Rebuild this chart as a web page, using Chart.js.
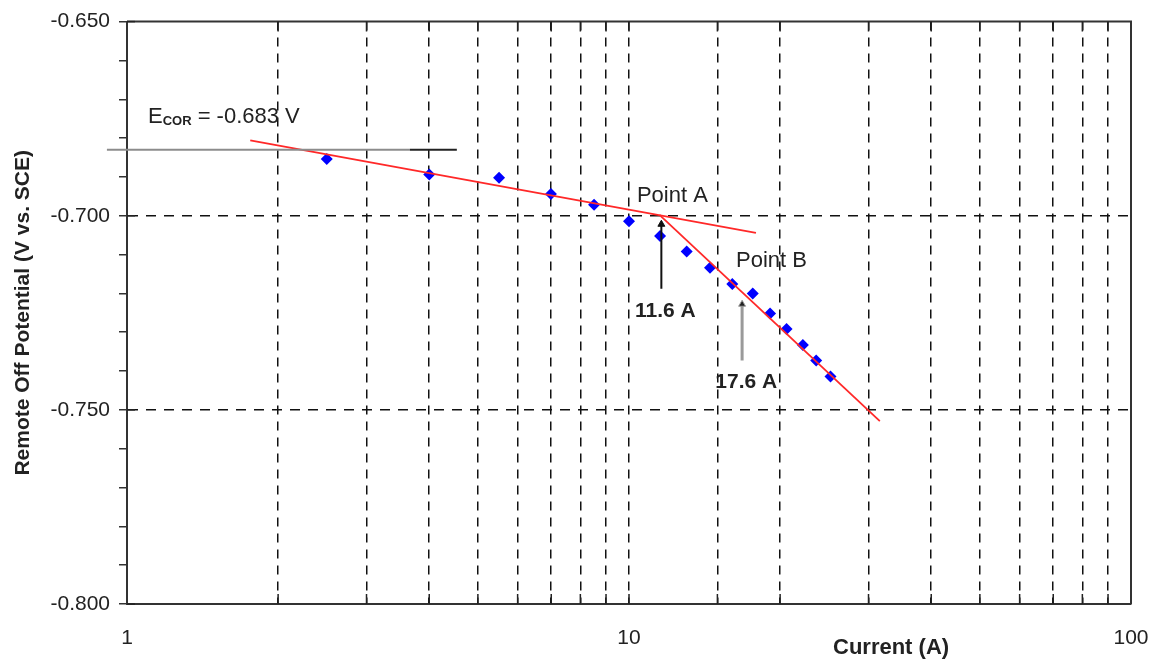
<!DOCTYPE html>
<html>
<head>
<meta charset="utf-8">
<script src="https://cdn.jsdelivr.net/npm/chart.js@4/dist/chart.umd.min.js"></script>
<style>
  html, body { margin: 0; padding: 0; background: #fff; }
  #wrap { width: 1157px; height: 662px; }
</style>
</head>
<body>
<div id="wrap"><canvas id="chart" width="1157" height="662"></canvas></div>
<script>
// measured points (blue diamonds)
const currentA = [2.50, 4.00, 5.51, 6.99, 8.52, 10.0, 11.53, 13.03, 14.5, 16.06, 17.64, 19.1, 20.6, 22.2, 23.6, 25.2];
const potentialV = [-0.6854, -0.6894, -0.6902, -0.6944, -0.6972, -0.7014, -0.7052, -0.7092, -0.7134, -0.7176, -0.7200, -0.7252, -0.7292, -0.7333, -0.7373, -0.7414];

// red fit lines
const fit1X = [1.76, 17.9];
const fit1Y = [-0.6806, -0.7044];
const fit2X = [11.5, 31.6];
const fit2Y = [-0.6998, -0.7529];

// E_COR reference line
const ecorX = [0.912, 3.66, 4.54];
const ecorY = [-0.683, -0.683, -0.683];

// arrows to Point A / Point B
const arrowAX = [11.6, 11.6];
const arrowAY = [-0.7188, -0.7022];
const arrowBX = [16.8, 16.8];
const arrowBY = [-0.7373, -0.7228];

const xLabels = [1, 10, 100];
const yMajor = [-0.65, -0.70, -0.75, -0.80];

const pts = (xs, ys) => xs.map((x, i) => ({ x, y: ys[i] }));
const near = (a, b) => Math.abs(a - b) < 1e-6;

Chart.defaults.font.family = "'Liberation Sans', Arial, sans-serif";
Chart.defaults.color = '#222';

// frame, inward ticks and the text annotations
const extras = {
    id: 'extras',
    afterDatasetsDraw(chart) {
        const { ctx, chartArea: a, scales: { x, y } } = chart;
        ctx.save();
        // top + right frame
        ctx.strokeStyle = '#333';
        ctx.lineWidth = 2;
        ctx.beginPath();
        ctx.moveTo(a.left, a.top); ctx.lineTo(a.right, a.top); ctx.lineTo(a.right, a.bottom);
        ctx.stroke();

        // inward ticks on top and bottom
        ctx.lineWidth = 1.5;
        ctx.strokeStyle = '#222';
        x.ticks.forEach(t => {
            if (near(t.value, 1) || near(t.value, 100)) return;
            const px = x.getPixelForValue(t.value);
            ctx.beginPath();
            ctx.moveTo(px, a.top); ctx.lineTo(px, a.top + 10);
            ctx.moveTo(px, a.bottom); ctx.lineTo(px, a.bottom - 10);
            ctx.stroke();
        });
        // inward part of major y ticks
        yMajor.forEach(v => {
            const py = y.getPixelForValue(v);
            ctx.beginPath();
            ctx.moveTo(a.left, py); ctx.lineTo(a.left + 8, py);
            ctx.stroke();
        });

        // labels
        ctx.fillStyle = '#222';
        ctx.textBaseline = 'alphabetic';
        ctx.textAlign = 'left';
        const at = (vx, vy) => [x.getPixelForValue(vx), y.getPixelForValue(vy)];

        let [ex, ey] = at(1.101, -0.6762);
        ctx.font = "22px 'Liberation Sans', Arial";
        ctx.fillText('E', ex, ey);
        ex += ctx.measureText('E').width;
        ctx.font = "bold 13px 'Liberation Sans', Arial";
        ctx.fillText('COR', ex, ey + 2);
        ex += ctx.measureText('COR').width;
        ctx.font = "22px 'Liberation Sans', Arial";
        ctx.fillText(' = -0.683 V', ex, ey);

        ctx.font = "22px 'Liberation Sans', Arial";
        ctx.fillText('Point A', ...at(10.37, -0.6964));
        ctx.fillText('Point B', ...at(16.34, -0.7132));
        ctx.font = "bold 21px 'Liberation Sans', Arial";
        ctx.fillText('11.6 A', ...at(10.28, -0.7262));
        ctx.fillText('17.6 A', ...at(14.86, -0.7443));

        // x axis title sits right of centre
        ctx.font = "bold 22px 'Liberation Sans', Arial";
        ctx.textAlign = 'center';
        ctx.textBaseline = 'middle';
        ctx.fillText('Current (A)', a.left + (a.right - a.left) * 0.761, 648);
        ctx.restore();
    }
};

new Chart(document.getElementById('chart'), {
    type: 'scatter',
    data: {
        datasets: [
            {
                label: 'E_COR',
                data: pts(ecorX, ecorY),
                showLine: true,
                clip: false,
                borderWidth: 2,
                pointRadius: 0,
                segment: { borderColor: c => c.p0DataIndex === 0 ? '#8c8c8c' : '#222' }
            },
            {
                label: 'fit 1',
                data: pts(fit1X, fit1Y),
                showLine: true,
                borderColor: 'rgb(255,40,40)',
                borderWidth: 1.8,
                pointRadius: 0
            },
            {
                label: 'fit 2',
                data: pts(fit2X, fit2Y),
                showLine: true,
                borderColor: 'rgb(255,40,40)',
                borderWidth: 1.8,
                pointRadius: 0
            },
            {
                label: 'arrow A',
                data: pts(arrowAX, arrowAY),
                showLine: true,
                borderColor: '#111',
                backgroundColor: '#111',
                borderWidth: 2,
                pointStyle: 'triangle',
                pointRadius: [0, 4],
                pointBorderWidth: 1
            },
            {
                label: 'arrow B',
                data: pts(arrowBX, arrowBY),
                showLine: true,
                borderColor: '#9a9a9a',
                backgroundColor: '#222',
                borderWidth: 3,
                pointStyle: 'triangle',
                pointRadius: [0, 4],
                pointBorderWidth: 1
            },
            {
                label: 'Remote off potential',
                data: pts(currentA, potentialV),
                pointStyle: 'rectRot',
                pointRadius: 6,
                pointBackgroundColor: '#0000ff',
                pointBorderColor: '#0000ff',
                pointBorderWidth: 0
            }
        ]
    },
    options: {
        responsive: false,
        animation: false,
        layout: { padding: { top: 20, right: 26, left: 0, bottom: 0 } },
        plugins: {
            legend: { display: false },
            tooltip: { enabled: false }
        },
        scales: {
            x: {
                type: 'logarithmic',
                min: 1,
                max: 100,
                afterFit: s => { s.height = 58; s.paddingLeft = 0; s.paddingRight = 0; },
                border: { color: '#333', width: 2, dash: [9, 7] },
                grid: {
                    drawTicks: false,
                    lineWidth: 1.5,
                    color: c => (c.tick && (near(c.tick.value, 1) || near(c.tick.value, 100))) ? 'rgba(0,0,0,0)' : '#111'
                },
                ticks: {
                    autoSkip: false,
                    maxRotation: 0,
                    padding: 22,
                    font: { size: 21 },
                    callback: v => xLabels.some(l => near(l, v)) ? String(v) : ''
                }
            },
            y: {
                min: -0.8,
                max: -0.65,
                afterFit: s => { s.width = 127; },
                border: { color: '#333', width: 2, dash: [10, 8] },
                grid: {
                    lineWidth: 1.5,
                    tickLength: 8,
                    tickColor: '#333',
                    tickBorderDash: [],
                    color: c => (c.tick && (near(c.tick.value, -0.7) || near(c.tick.value, -0.75))) ? '#111' : 'rgba(0,0,0,0)'
                },
                ticks: {
                    stepSize: 0.01,
                    autoSkip: false,
                    padding: 9,
                    font: { size: 21 },
                    callback: v => near(Math.round(v * 20), v * 20) ? v.toFixed(3) : ''
                },
                title: {
                    display: true,
                    text: 'Remote Off Potential (V vs. SCE)',
                    font: { size: 21, weight: 'bold' },
                    padding: { top: 11, bottom: 0 }
                }
            }
        }
    },
    plugins: [extras]
});
</script>
</body>
</html>
